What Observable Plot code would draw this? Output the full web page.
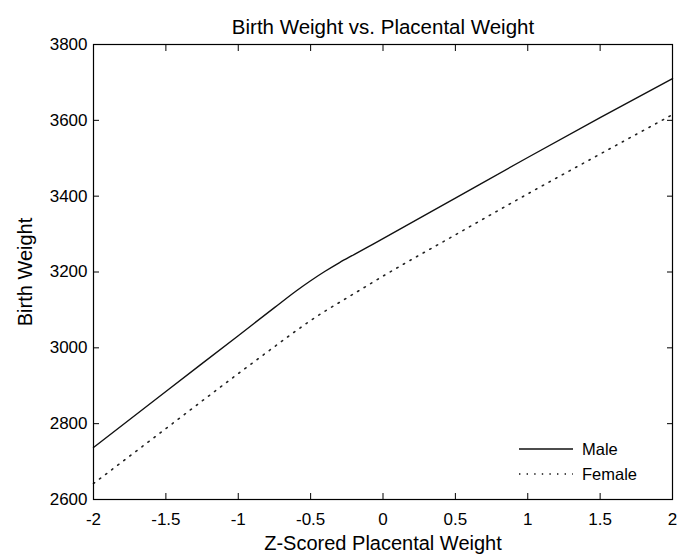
<!DOCTYPE html>
<html>
<head>
<meta charset="utf-8">
<script src="https://cdn.jsdelivr.net/npm/d3@7"></script>
<script src="https://cdn.jsdelivr.net/npm/@observablehq/plot@0.6"></script>
<style>
  html, body { margin: 0; padding: 0; background: #fff; }
  #chart svg { display: block; }
</style>
</head>
<body>
<div id="chart"></div>
<script>
const title = "Birth Weight vs. Placental Weight";
const xLabel = "Z-Scored Placental Weight";
const yLabel = "Birth Weight";
const seriesNames = ["Male", "Female"];
const zScores = [-2, -1.5, -1, -0.75, -0.6, -0.5, -0.4, -0.3, -0.2, -0.1, 0, 0.5, 1, 1.5, 2];
const maleWeights = [2737, 2885, 3032, 3106, 3150, 3177, 3202, 3225, 3246, 3267, 3288, 3395, 3502, 3607, 3710];
const femaleWeights = [2642, 2787, 2932, 3003, 3045, 3072, 3097, 3120, 3143, 3166, 3189, 3298, 3406, 3511, 3615];
const xTicks = [-2, -1.5, -1, -0.5, 0, 0.5, 1, 1.5, 2];
const yTicks = [2600, 2800, 3000, 3200, 3400, 3600, 3800];

const rows = [];
zScores.forEach((z, i) => {
  rows.push({series: seriesNames[0], z, w: maleWeights[i]});
  rows.push({series: seriesNames[1], z, w: femaleWeights[i]});
});

const W = 678, H = 554;
const mL = 93, mR = 6, mT = 44, mB = 55;
const font = "'Liberation Sans', Arial, sans-serif";

const plot = Plot.plot({
  width: W,
  height: H,
  marginLeft: mL,
  marginRight: mR,
  marginTop: mT,
  marginBottom: mB,
  style: {fontFamily: font, fontSize: "17px", color: "#000", background: "#fff"},
  x: {domain: [-2, 2]},
  y: {domain: [2600, 3800]},
  marks: [
    Plot.line(rows.filter(d => d.series === "Male"), {x: "z", y: "w", stroke: "#111", strokeWidth: 1.4, curve: "monotone-x"}),
    Plot.line(rows.filter(d => d.series === "Female"), {x: "z", y: "w", stroke: "#222", strokeWidth: 1.6, strokeDasharray: "1.4 6.2", curve: "monotone-x"}),
    Plot.frame({stroke: "#000", strokeWidth: 1.2}),
    Plot.axisX({anchor: "bottom", ticks: xTicks, tickSize: -6, tickPadding: 19, tickFormat: d => String(d), label: null, fontSize: 17}),
    Plot.axisX({anchor: "top", ticks: xTicks, tickSize: -6, tickFormat: () => "", label: null}),
    Plot.axisY({anchor: "left", ticks: yTicks, tickSize: -6, tickPadding: 12, tickFormat: d => String(d), label: null, fontSize: 17}),
    Plot.axisY({anchor: "right", ticks: yTicks, tickSize: -6, tickFormat: () => "", label: null}),
    Plot.text([title], {text: d => d, frameAnchor: "top", lineAnchor: "bottom", textAnchor: "middle", dy: -11, fontSize: 20.5}),
    Plot.text([xLabel], {text: d => d, frameAnchor: "bottom", lineAnchor: "bottom", textAnchor: "middle", dy: 50, fontSize: 20}),
    Plot.text([yLabel], {text: d => d, frameAnchor: "left", lineAnchor: "middle", textAnchor: "middle", dx: -68, rotate: -90, fontSize: 20})
  ]
});

// Legend (no box), positioned relative to the frame's bottom-right corner
const svg = d3.select(plot);
const right = W - mR, bottom = H - mB;
const leg = svg.append("g").attr("font-family", font).attr("font-size", 16.5).attr("text-anchor", "start");
seriesNames.forEach((name, i) => {
  const y = bottom - 50 + i * 25;
  leg.append("line")
    .attr("x1", right - 153).attr("x2", right - 99)
    .attr("y1", y).attr("y2", y)
    .attr("stroke", "#111")
    .attr("stroke-width", i === 0 ? 1.4 : 1.6)
    .attr("stroke-dasharray", i === 0 ? null : "1.4 6.2");
  leg.append("text")
    .attr("x", right - 90).attr("y", y).attr("dy", "0.35em")
    .attr("fill", "#000")
    .text(name);
});

document.getElementById("chart").appendChild(plot);
</script>
</body>
</html>
